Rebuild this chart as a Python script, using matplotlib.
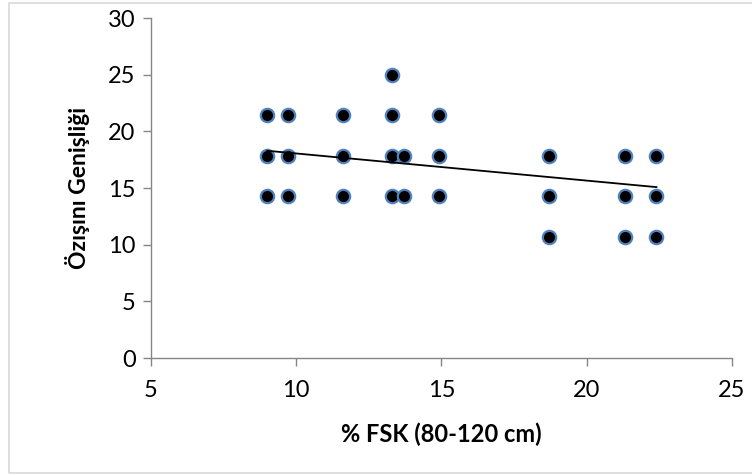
import numpy as np
import matplotlib
matplotlib.use("Agg")
import matplotlib.pyplot as plt
from matplotlib.patches import Rectangle

plt.rcParams["font.family"] = ["Lato", "DejaVu Sans"]

# % FSK values and the matching Özışını Genişliği readings
fsk = [9.0, 9.0, 9.0,
       9.7, 9.7, 9.7,
       11.6, 11.6, 11.6,
       13.3, 13.3, 13.3, 13.3,
       13.7, 13.7,
       14.9, 14.9, 14.9,
       18.7, 18.7, 18.7,
       21.3, 21.3, 21.3,
       22.4, 22.4, 22.4]
genislik = [21.43, 17.86, 14.29,
            21.43, 17.86, 14.29,
            21.43, 17.86, 14.29,
            25.0, 21.43, 17.86, 14.29,
            17.86, 14.29,
            21.43, 17.86, 14.29,
            17.86, 14.29, 10.71,
            17.86, 14.29, 10.71,
            17.86, 14.29, 10.71]

# linear trend line coefficients (y = slope * x + intercept)
trend_slope = -0.2396
trend_intercept = 20.456

x = np.array(fsk)
y = np.array(genislik)

fig = plt.figure(figsize=(7.52, 4.75), dpi=100)
ax = fig.add_axes([0.2008, 0.2463, 0.7726, 0.7153])

# outer chart border (right edge runs off the canvas)
fig.patches.append(Rectangle((0.012, 0.004), 1.0, 0.99, transform=fig.transFigure,
                             fill=False, edgecolor="#d9d9d9", linewidth=1.2))

ax.plot(x, y, linestyle="none", marker="o", markersize=9.6,
        markerfacecolor="black", markeredgecolor="#4f81bd", markeredgewidth=1.6,
        zorder=3)

xs = np.array([x.min(), x.max()])
ax.plot(xs, trend_slope * xs + trend_intercept, color="black", linewidth=1.3, zorder=4)

ax.set_xlim(5, 25)
ax.set_ylim(0, 30)
ax.set_xticks(np.arange(5, 26, 5))
ax.set_yticks(np.arange(0, 31, 5))

for side in ["top", "right"]:
    ax.spines[side].set_visible(False)
for side in ["left", "bottom"]:
    ax.spines[side].set_color("#868686")
    ax.spines[side].set_linewidth(1.0)

ax.tick_params(axis="both", direction="out", length=6, width=1.0,
               color="#868686", labelsize=17, labelcolor="black")
ax.tick_params(axis="x", pad=10)
ax.tick_params(axis="y", pad=5)

ax.set_xlabel("% FSK (80-120 cm)", fontsize=17, fontweight="bold", labelpad=15)
ax.set_ylabel("Özışını Genişliği", fontsize=16.5, fontweight="bold", labelpad=13)

fig.savefig("out.png", dpi=100)
